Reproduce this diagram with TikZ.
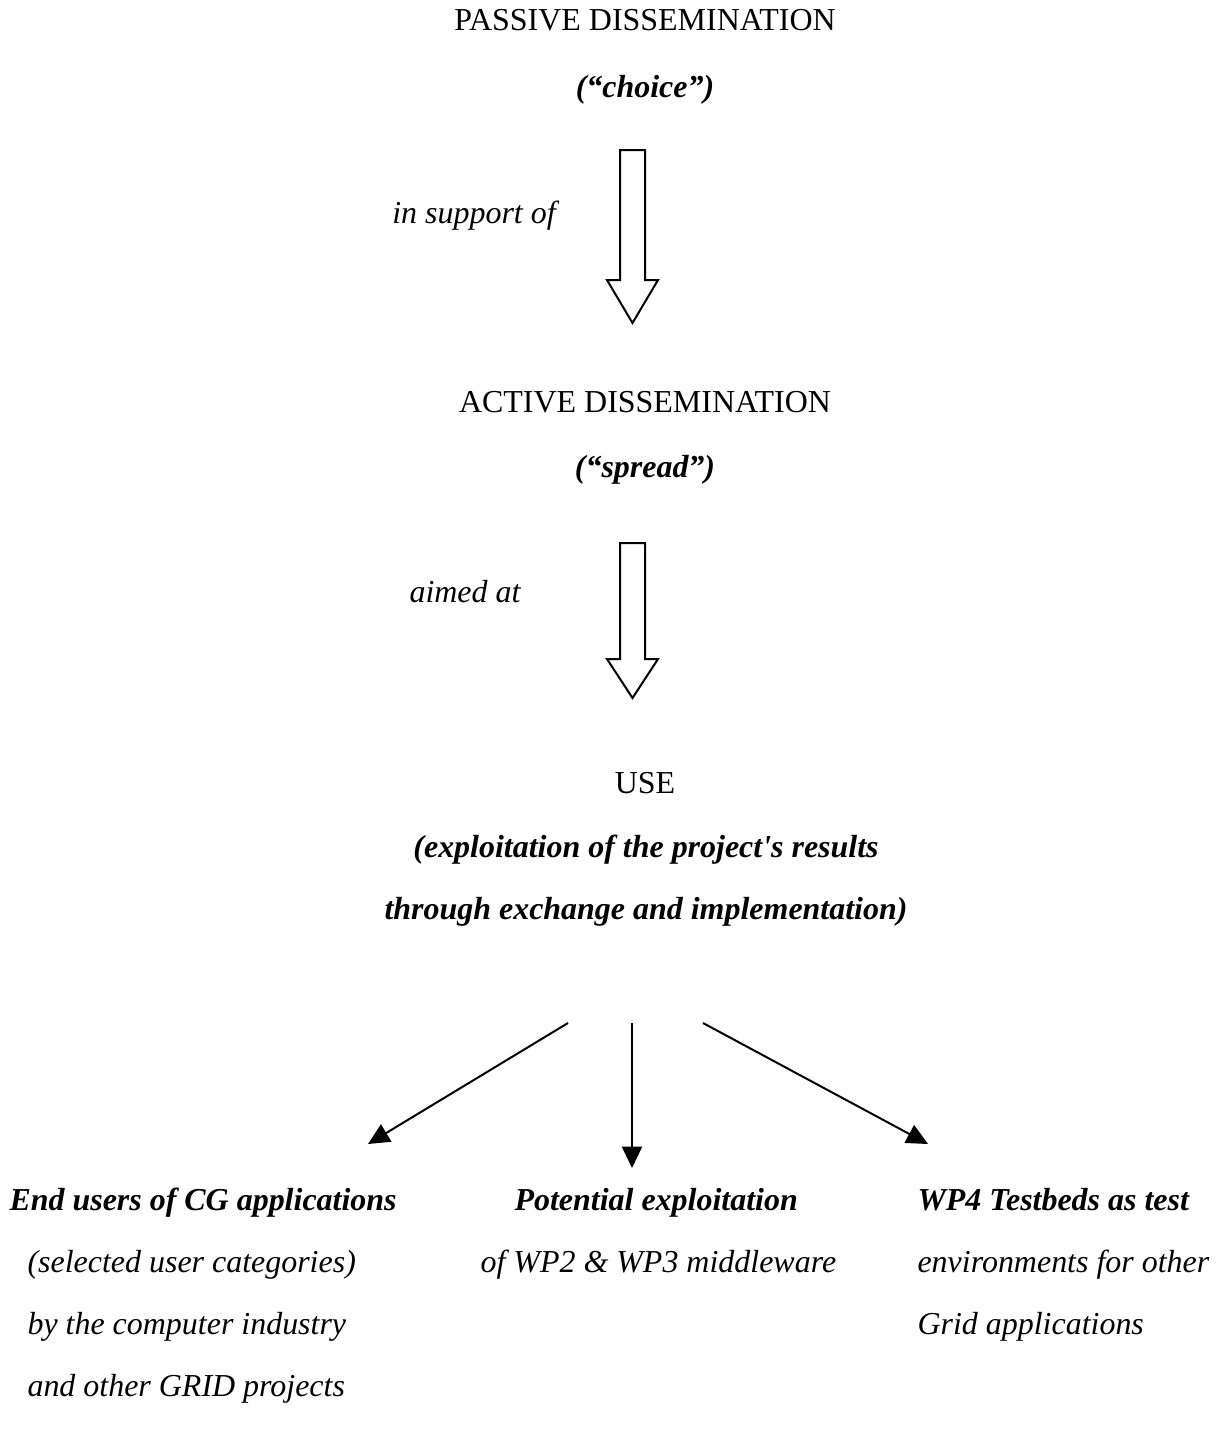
\documentclass[tikz,border=0pt]{standalone}
\usepackage{fontspec}
\setmainfont{Liberation Serif}[Ligatures=TeXOff]
\usetikzlibrary{arrows.meta}

\begin{document}
\begin{tikzpicture}[x=0.3755pt,y=-0.3755pt,
    txt/.style={inner sep=0pt,font=\fontsize{12}{14}\selectfont},
    subtitle/.style={inner sep=0pt,font=\fontsize{12}{14}\selectfont\bfseries\itshape},
    note/.style={inner sep=0pt,font=\fontsize{12}{14}\selectfont\itshape},
    hollow/.style={draw=black,line width=0.75pt,fill=white,line join=miter},
    spoke/.style={line width=0.75pt,-{Triangle[length=8pt,width=7.5pt]}}]
  \useasboundingbox (0,0) rectangle (1220,1434);
  %% stages
  \node[txt,anchor=base] (passive) at (645,31) {PASSIVE DISSEMINATION};
  \node[subtitle,anchor=base] (choice) at (645,97) {(“choice”)};
  \node[note,anchor=base] (support) at (474,223) {in support of};
  \node[txt,anchor=base] (active) at (645,412) {ACTIVE DISSEMINATION};
  \node[subtitle,anchor=base] (spread) at (645,477) {(“spread”)};
  \node[note,anchor=base] (aimed) at (465,602) {aimed at};
  \node[txt,anchor=base] (use) at (645,793) {USE};
  \node[subtitle,anchor=base] (results) at (646,857) {(exploitation of the project's results};
  \node[subtitle,anchor=base] (through) at (646,919) {through exchange and implementation)};
  %% block arrows
  \coordinate (arrowA) at (632.5,150);
  \coordinate (arrowB) at (632.5,543);
  \begin{scope}[shift={(arrowA)}]
    \draw[hollow] (-12.5,0) -- (-12.5,130) -- (-25.5,130) -- (0,173) -- (25.5,130) -- (12.5,130) -- (12.5,0) -- cycle;
  \end{scope}
  \begin{scope}[shift={(arrowB)}]
    \draw[hollow] (-12.5,0) -- (-12.5,116) -- (-25.5,116) -- (0,155) -- (25.5,116) -- (12.5,116) -- (12.5,0) -- cycle;
  \end{scope}
  %% fan out
  \coordinate (fanL) at (568,1023);
  \coordinate (fanM) at (632,1023);
  \coordinate (fanR) at (703,1023);
  \coordinate (tipL) at (368,1144);
  \coordinate (tipM) at (632,1168);
  \coordinate (tipR) at (928,1144);
  \draw[spoke] (fanL) -- (tipL);
  \draw[spoke] (fanM) -- (tipM);
  \draw[spoke] (fanR) -- (tipR);
  %% targets
  \node[subtitle,anchor=base west] (endusers) at (9,1210) {End users of CG applications};
  \node[note,anchor=base west] (selected) at (27,1272) {(selected user categories)};
  \node[note,anchor=base west] (industry) at (27,1334) {by the computer industry};
  \node[note,anchor=base west] (gridproj) at (27,1396) {and other GRID projects};
  \node[subtitle,anchor=base west] (potential) at (514,1210) {Potential exploitation};
  \node[note,anchor=base west] (middleware) at (480,1272) {of WP2 \& WP3 middleware};
  \node[subtitle,anchor=base west] (testbeds) at (917,1210) {WP4 Testbeds as test};
  \node[note,anchor=base west] (environments) at (917,1272) {environments for other};
  \node[note,anchor=base west] (gridapps) at (917,1334) {Grid applications};
\end{tikzpicture}
\end{document}
